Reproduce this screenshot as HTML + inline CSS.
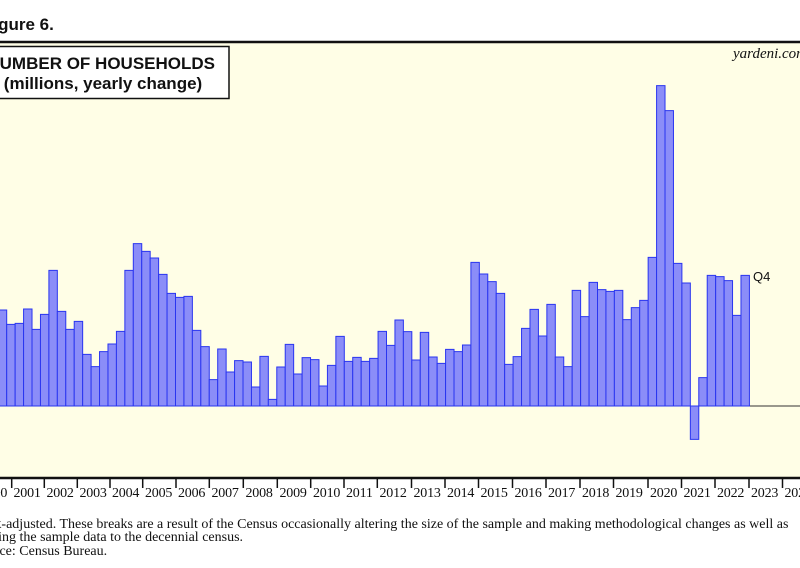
<!DOCTYPE html>
<html><head><meta charset="utf-8"><style>
body{margin:0;width:800px;height:568px;background:#fff;overflow:hidden;position:relative;font-family:"Liberation Sans",sans-serif}
</style></head><body>
<svg width="800" height="568" style="position:absolute;left:0;top:0">
<rect x="0" y="42" width="800" height="436" fill="#fffee6"/>
<line x1="0" y1="42" x2="800" y2="42" stroke="#111" stroke-width="2.5"/>
<line x1="0" y1="478" x2="800" y2="478" stroke="#111" stroke-width="2.5"/>
<line x1="0" y1="406" x2="800" y2="406" stroke="#333" stroke-width="1"/>
<g transform="translate(-1.74,230) scale(8.44,0.33333)" fill="#8b8df8" stroke="#2a35f0" stroke-width="1">
<rect vector-effect="non-scaling-stroke" x="0" y="240" width="1" height="288"/>
<rect vector-effect="non-scaling-stroke" x="1" y="283" width="1" height="245"/>
<rect vector-effect="non-scaling-stroke" x="2" y="280" width="1" height="248"/>
<rect vector-effect="non-scaling-stroke" x="3" y="237" width="1" height="291"/>
<rect vector-effect="non-scaling-stroke" x="4" y="298" width="1" height="230"/>
<rect vector-effect="non-scaling-stroke" x="5" y="253" width="1" height="275"/>
<rect vector-effect="non-scaling-stroke" x="6" y="121" width="1" height="407"/>
<rect vector-effect="non-scaling-stroke" x="7" y="244" width="1" height="284"/>
<rect vector-effect="non-scaling-stroke" x="8" y="298" width="1" height="230"/>
<rect vector-effect="non-scaling-stroke" x="9" y="274" width="1" height="254"/>
<rect vector-effect="non-scaling-stroke" x="10" y="373" width="1" height="155"/>
<rect vector-effect="non-scaling-stroke" x="11" y="410" width="1" height="118"/>
<rect vector-effect="non-scaling-stroke" x="12" y="365" width="1" height="163"/>
<rect vector-effect="non-scaling-stroke" x="13" y="342" width="1" height="186"/>
<rect vector-effect="non-scaling-stroke" x="14" y="304" width="1" height="224"/>
<rect vector-effect="non-scaling-stroke" x="15" y="121" width="1" height="407"/>
<rect vector-effect="non-scaling-stroke" x="16" y="41" width="1" height="487"/>
<rect vector-effect="non-scaling-stroke" x="17" y="64" width="1" height="464"/>
<rect vector-effect="non-scaling-stroke" x="18" y="84" width="1" height="444"/>
<rect vector-effect="non-scaling-stroke" x="19" y="133" width="1" height="395"/>
<rect vector-effect="non-scaling-stroke" x="20" y="190" width="1" height="338"/>
<rect vector-effect="non-scaling-stroke" x="21" y="202" width="1" height="326"/>
<rect vector-effect="non-scaling-stroke" x="22" y="199" width="1" height="329"/>
<rect vector-effect="non-scaling-stroke" x="23" y="301" width="1" height="227"/>
<rect vector-effect="non-scaling-stroke" x="24" y="350" width="1" height="178"/>
<rect vector-effect="non-scaling-stroke" x="25" y="449" width="1" height="79"/>
<rect vector-effect="non-scaling-stroke" x="26" y="357" width="1" height="171"/>
<rect vector-effect="non-scaling-stroke" x="27" y="426" width="1" height="102"/>
<rect vector-effect="non-scaling-stroke" x="28" y="392" width="1" height="136"/>
<rect vector-effect="non-scaling-stroke" x="29" y="396" width="1" height="132"/>
<rect vector-effect="non-scaling-stroke" x="30" y="471" width="1" height="57"/>
<rect vector-effect="non-scaling-stroke" x="31" y="379" width="1" height="149"/>
<rect vector-effect="non-scaling-stroke" x="32" y="508" width="1" height="20"/>
<rect vector-effect="non-scaling-stroke" x="33" y="411" width="1" height="117"/>
<rect vector-effect="non-scaling-stroke" x="34" y="343" width="1" height="185"/>
<rect vector-effect="non-scaling-stroke" x="35" y="432" width="1" height="96"/>
<rect vector-effect="non-scaling-stroke" x="36" y="383" width="1" height="145"/>
<rect vector-effect="non-scaling-stroke" x="37" y="389" width="1" height="139"/>
<rect vector-effect="non-scaling-stroke" x="38" y="468" width="1" height="60"/>
<rect vector-effect="non-scaling-stroke" x="39" y="406" width="1" height="122"/>
<rect vector-effect="non-scaling-stroke" x="40" y="319" width="1" height="209"/>
<rect vector-effect="non-scaling-stroke" x="41" y="394" width="1" height="134"/>
<rect vector-effect="non-scaling-stroke" x="42" y="382" width="1" height="146"/>
<rect vector-effect="non-scaling-stroke" x="43" y="394" width="1" height="134"/>
<rect vector-effect="non-scaling-stroke" x="44" y="385" width="1" height="143"/>
<rect vector-effect="non-scaling-stroke" x="45" y="304" width="1" height="224"/>
<rect vector-effect="non-scaling-stroke" x="46" y="346" width="1" height="182"/>
<rect vector-effect="non-scaling-stroke" x="47" y="270" width="1" height="258"/>
<rect vector-effect="non-scaling-stroke" x="48" y="305" width="1" height="223"/>
<rect vector-effect="non-scaling-stroke" x="49" y="390" width="1" height="138"/>
<rect vector-effect="non-scaling-stroke" x="50" y="307" width="1" height="221"/>
<rect vector-effect="non-scaling-stroke" x="51" y="381" width="1" height="147"/>
<rect vector-effect="non-scaling-stroke" x="52" y="400" width="1" height="128"/>
<rect vector-effect="non-scaling-stroke" x="53" y="358" width="1" height="170"/>
<rect vector-effect="non-scaling-stroke" x="54" y="365" width="1" height="163"/>
<rect vector-effect="non-scaling-stroke" x="55" y="345" width="1" height="183"/>
<rect vector-effect="non-scaling-stroke" x="56" y="97" width="1" height="431"/>
<rect vector-effect="non-scaling-stroke" x="57" y="132" width="1" height="396"/>
<rect vector-effect="non-scaling-stroke" x="58" y="155" width="1" height="373"/>
<rect vector-effect="non-scaling-stroke" x="59" y="190" width="1" height="338"/>
<rect vector-effect="non-scaling-stroke" x="60" y="403" width="1" height="125"/>
<rect vector-effect="non-scaling-stroke" x="61" y="380" width="1" height="148"/>
<rect vector-effect="non-scaling-stroke" x="62" y="295" width="1" height="233"/>
<rect vector-effect="non-scaling-stroke" x="63" y="238" width="1" height="290"/>
<rect vector-effect="non-scaling-stroke" x="64" y="318" width="1" height="210"/>
<rect vector-effect="non-scaling-stroke" x="65" y="223" width="1" height="305"/>
<rect vector-effect="non-scaling-stroke" x="66" y="381" width="1" height="147"/>
<rect vector-effect="non-scaling-stroke" x="67" y="410" width="1" height="118"/>
<rect vector-effect="non-scaling-stroke" x="68" y="181" width="1" height="347"/>
<rect vector-effect="non-scaling-stroke" x="69" y="260" width="1" height="268"/>
<rect vector-effect="non-scaling-stroke" x="70" y="157" width="1" height="371"/>
<rect vector-effect="non-scaling-stroke" x="71" y="179" width="1" height="349"/>
<rect vector-effect="non-scaling-stroke" x="72" y="184" width="1" height="344"/>
<rect vector-effect="non-scaling-stroke" x="73" y="181" width="1" height="347"/>
<rect vector-effect="non-scaling-stroke" x="74" y="269" width="1" height="259"/>
<rect vector-effect="non-scaling-stroke" x="75" y="233" width="1" height="295"/>
<rect vector-effect="non-scaling-stroke" x="76" y="211" width="1" height="317"/>
<rect vector-effect="non-scaling-stroke" x="77" y="82" width="1" height="446"/>
<rect vector-effect="non-scaling-stroke" x="78" y="-433" width="1" height="961"/>
<rect vector-effect="non-scaling-stroke" x="79" y="-358" width="1" height="886"/>
<rect vector-effect="non-scaling-stroke" x="80" y="100" width="1" height="428"/>
<rect vector-effect="non-scaling-stroke" x="81" y="159" width="1" height="369"/>
<rect vector-effect="non-scaling-stroke" x="82" y="528" width="1" height="100"/>
<rect vector-effect="non-scaling-stroke" x="83" y="443" width="1" height="85"/>
<rect vector-effect="non-scaling-stroke" x="84" y="136" width="1" height="392"/>
<rect vector-effect="non-scaling-stroke" x="85" y="140" width="1" height="388"/>
<rect vector-effect="non-scaling-stroke" x="86" y="152" width="1" height="376"/>
<rect vector-effect="non-scaling-stroke" x="87" y="256" width="1" height="272"/>
<rect vector-effect="non-scaling-stroke" x="88" y="136" width="1" height="392"/>
</g>
<g stroke="#111" stroke-width="1.5">
<line x1="11.7" y1="479" x2="11.7" y2="488"/><line x1="44.3" y1="479" x2="44.3" y2="488"/><line x1="77.3" y1="479" x2="77.3" y2="488"/><line x1="110" y1="479" x2="110" y2="488"/><line x1="142.7" y1="479" x2="142.7" y2="488"/><line x1="176" y1="479" x2="176" y2="488"/><line x1="209.3" y1="479" x2="209.3" y2="488"/><line x1="243.3" y1="479" x2="243.3" y2="488"/><line x1="277.3" y1="479" x2="277.3" y2="488"/><line x1="310.7" y1="479" x2="310.7" y2="488"/><line x1="344" y1="479" x2="344" y2="488"/><line x1="377.3" y1="479" x2="377.3" y2="488"/><line x1="411.5" y1="479" x2="411.5" y2="488"/><line x1="445" y1="479" x2="445" y2="488"/><line x1="478.5" y1="479" x2="478.5" y2="488"/><line x1="512.5" y1="479" x2="512.5" y2="488"/><line x1="546" y1="479" x2="546" y2="488"/><line x1="580" y1="479" x2="580" y2="488"/><line x1="613.5" y1="479" x2="613.5" y2="488"/><line x1="648" y1="479" x2="648" y2="488"/><line x1="681.5" y1="479" x2="681.5" y2="488"/><line x1="715" y1="479" x2="715" y2="488"/><line x1="749" y1="479" x2="749" y2="488"/><line x1="782.5" y1="479" x2="782.5" y2="488"/>
</g>
<g font-family="Liberation Serif,serif" font-size="14" fill="#111" letter-spacing="-0.2">
<text x="-20" y="497">2000</text><text x="13.5" y="497">2001</text><text x="46.5" y="497">2002</text><text x="79.5" y="497">2003</text><text x="112" y="497">2004</text><text x="145" y="497">2005</text><text x="178" y="497">2006</text><text x="211.5" y="497">2007</text><text x="245.5" y="497">2008</text><text x="279.5" y="497">2009</text><text x="313" y="497">2010</text><text x="346" y="497">2011</text><text x="379.5" y="497">2012</text><text x="413.5" y="497">2013</text><text x="447" y="497">2014</text><text x="480.5" y="497">2015</text><text x="514.5" y="497">2016</text><text x="548" y="497">2017</text><text x="582" y="497">2018</text><text x="615.5" y="497">2019</text><text x="650" y="497">2020</text><text x="683.5" y="497">2021</text><text x="717" y="497">2022</text><text x="751" y="497">2023</text><text x="784.5" y="497">2024</text>
</g>
<rect x="-10" y="46.5" width="239" height="52" fill="#fff" stroke="#111" stroke-width="1.5"/>
<text x="215" y="69" text-anchor="end" font-family="Liberation Sans,sans-serif" font-weight="bold" font-size="17" fill="#111">NUMBER OF HOUSEHOLDS</text>
<text x="103" y="89" text-anchor="middle" font-family="Liberation Sans,sans-serif" font-weight="bold" font-size="17" fill="#111">(millions, yearly change)</text>
<text x="-17" y="30" font-family="Liberation Sans,sans-serif" font-weight="bold" font-size="17" fill="#111">Figure 6.</text>
<text x="733" y="58" font-family="Liberation Serif,serif" font-style="italic" font-size="15" fill="#111">yardeni.com</text>
<text x="753" y="281" font-family="Liberation Sans,sans-serif" font-size="13" fill="#111">Q4</text>
<g font-family="Liberation Serif,serif" font-size="14" fill="#111">
<text x="-32" y="528">Break-adjusted. These breaks are a result of the Census occasionally altering the size of the sample and making methodological changes as well as</text>
<text x="-40" y="541">weighting the sample data to the decennial census.</text>
<text x="-27" y="555">Source: Census Bureau.</text>
</g>
</svg>
</body></html>
